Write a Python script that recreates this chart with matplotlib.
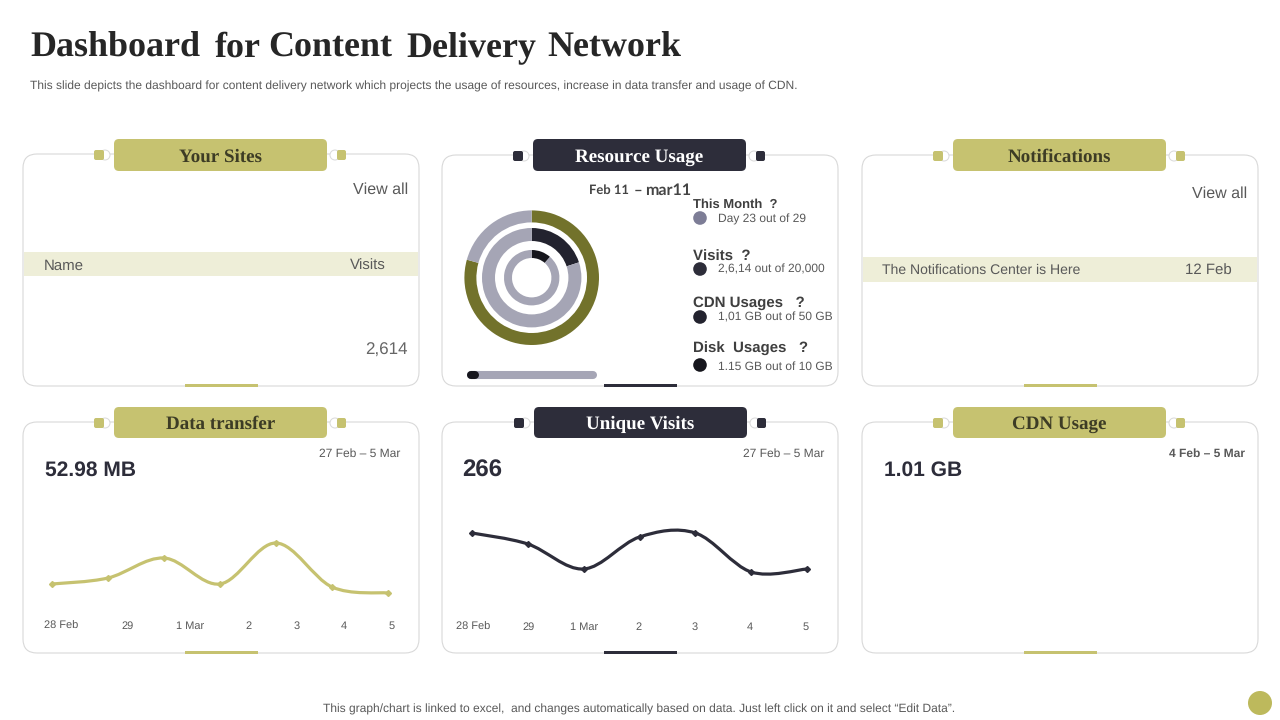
"""Dashboard for Content Delivery Network - slide style chart"""
import matplotlib
matplotlib.use('Agg')
import matplotlib.pyplot as plt
from matplotlib.patches import FancyBboxPatch, Rectangle, Circle, PathPatch
from matplotlib.path import Path

plt.rcParams['text.hinting'] = 'no_hinting'
plt.rcParams['text.hinting_factor'] = 1

OLIVE = '#c6c270'
DARK = '#2d2d3a'
BAND = '#eeeed8'
GREY_TEXT = '#595959'
RING_GREY = '#a5a5b5'
RING_OLIVE = '#72722b'

title_words = ['Dashboard', 'for', 'Content', 'Delivery', 'Network']
subtitle = ('This slide depicts the dashboard for content delivery network which projects '
            'the usage of resources, increase in data transfer and usage of CDN.')
footer = 'This graph/chart is linked to excel,  and changes automatically based on data. Just left click on it and select “Edit Data”.'

card_titles = ['Your Sites', 'Resource Usage', 'Notifications', 'Data transfer', 'Unique Visits', 'CDN Usage']

day_labels = ['28 Feb', '29', '1 Mar', '2', '3', '4', '5']
transfer_values = [16, 22, 42, 16, 57, 13, 7]
visits_values = [67, 56, 31, 63, 67, 28, 31]

ring_used = [23, 20, 11.5]
ring_total = [29, 100, 100]
progress_value = 9

legend_heads = ['This Month  ?', 'Visits  ?', 'CDN Usages   ?', 'Disk  Usages   ?']
legend_notes = ['Day 23 out of 29', '2,6,14 out of 20,000', '1,01 GB out of 50 GB', '1.15 GB out of 10 GB']


def smooth_path(xs, ys):
    # 점을 지나는 부드러운 곡선 (Catmull-Rom -> bezier)
    verts = [(xs[0], ys[0])]
    codes = [Path.MOVETO]
    n = len(xs)
    for i in range(n - 1):
        p0 = max(i - 1, 0)
        p3 = min(i + 2, n - 1)
        c1 = (xs[i] + (xs[i + 1] - xs[p0]) / 6, ys[i] + (ys[i + 1] - ys[p0]) / 6)
        c2 = (xs[i + 1] - (xs[p3] - xs[i]) / 6, ys[i + 1] - (ys[p3] - ys[i]) / 6)
        verts += [c1, c2, (xs[i + 1], ys[i + 1])]
        codes += [Path.CURVE4, Path.CURVE4, Path.CURVE4]
    return Path(verts, codes)


fig = plt.figure(figsize=(12.8, 7.2), dpi=100, facecolor='white')
bg = fig.add_axes([0, 0, 1, 1])
bg.set_xlim(0, 1280)
bg.set_ylim(720, 0)
bg.axis('off')


def px_axes(x0, y0, x1, y1):
    ax = fig.add_axes([x0 / 1280, 1 - y1 / 720, (x1 - x0) / 1280, (y1 - y0) / 720])
    ax.axis('off')
    ax.patch.set_alpha(0)
    return ax


def txt(x, y, s, size=9, color=GREY_TEXT, ha='left', family='Liberation Sans', weight='normal', va='center_baseline'):
    bg.text(x, y, s, fontsize=size, color=color, ha=ha, va=va, family=family, fontweight=weight)


def draw_card(x0, y0, x1, y1, head_x0, head_y0, head_y1, label, color):
    bg.add_patch(FancyBboxPatch((x0 + 14, y0 + 14), x1 - x0 - 28, y1 - y0 - 28,
                                boxstyle='round,pad=14,rounding_size=14',
                                facecolor='white', edgecolor='#d9d9d9', linewidth=0.8))
    head_x1 = head_x0 + 213
    mid_y = (head_y0 + head_y1) / 2
    # 연결 장식
    bg.add_patch(Circle((head_x0 - 9, y0 + 1), 5, facecolor='white', edgecolor='#d9d9d9', linewidth=0.7))
    bg.add_patch(Circle((head_x1 + 8, y0 + 1), 5, facecolor='white', edgecolor='#d9d9d9', linewidth=0.7))
    bg.add_patch(FancyBboxPatch((head_x0 - 20, y0 - 4), 10, 10, boxstyle='round,pad=0,rounding_size=2',
                                facecolor=color, edgecolor='none'))
    bg.add_patch(FancyBboxPatch((head_x1 + 10, y0 - 4), 9, 10, boxstyle='round,pad=0,rounding_size=2',
                                facecolor=color, edgecolor='none'))
    bg.add_patch(FancyBboxPatch((head_x0, head_y0), head_x1 - head_x0, head_y1 - head_y0,
                                boxstyle='round,pad=0,rounding_size=5',
                                facecolor=color, edgecolor='none', zorder=3))
    text_color = 'white' if color == DARK else '#3d3c25'
    bg.text((head_x0 + head_x1) / 2, mid_y, label, fontsize=13.4, color=text_color, ha='center', va='center_baseline',
            family='Liberation Serif', fontweight='bold', zorder=4)
    # 아래쪽 짧은 바
    mid_x = (x0 + x1) / 2
    bg.add_patch(Rectangle((mid_x - 36, y1 - 2), 73, 3, facecolor=color, edgecolor='none'))


# 제목은 원본 단어 위치에 맞춰 단어별로 배치
title_x = [30, 215, 268, 406, 547]
for word, wx in zip(title_words, title_x):
    txt(wx, 57, word, size=26, color='#262626', family='Liberation Serif', weight='bold', va='baseline')
txt(30, 85, subtitle, size=8.6)
txt(639, 708.5, footer, size=8.55, ha='center')
bg.add_patch(Circle((1260, 703), 12, facecolor='#bdb95c', edgecolor='none'))

draw_card(23, 154, 419, 386, 114, 139, 171, card_titles[0], OLIVE)
draw_card(442, 155, 838, 386, 533, 139, 171, card_titles[1], DARK)
draw_card(862, 155, 1258, 386, 953, 139, 171, card_titles[2], OLIVE)
draw_card(23, 422, 419, 653, 114, 407, 438, card_titles[3], OLIVE)
draw_card(442, 422, 838, 653, 534, 407, 438, card_titles[4], DARK)
draw_card(862, 422, 1258, 653, 953, 407, 438, card_titles[5], OLIVE)

# Your Sites
bg.add_patch(Rectangle((24, 252), 394, 24, facecolor=BAND, edgecolor='none'))
txt(408, 188, 'View all', size=11.8, ha='right')
txt(44, 264, 'Name', size=10.8)
txt(386, 264, 'Visits', size=10.8, ha='right')
txt(408, 348.5, '2,614', size=12, ha='right', color='#666666')

# Notifications
bg.add_patch(Rectangle((863, 257), 394, 25, facecolor=BAND, edgecolor='none'))
txt(1247, 192, 'View all', size=11.8, ha='right')
txt(882, 269, 'The Notifications Center is Here', size=10.4)
txt(1232, 269, '12 Feb', size=10.6, ha='right')

# Resource Usage
txt(589, 189.5, 'Feb 11', size=9, color='#444444', family='Lato', weight='bold')
txt(634, 189, '–', size=11, color='#444444', family='Lato', weight='bold')
txt(645, 188.5, 'mar11', size=11.5, color='#444444', family='Lato', weight='bold')

ring_ax = px_axes(461.7, 207.7, 601.7, 347.7)
ring_radius = [67.3, 49.7, 27.7]
ring_width = [12, 13, 8]
ring_colors = [(RING_OLIVE, RING_GREY), ('#23232f', RING_GREY), ('#16161d', RING_GREY)]
for used, total, radius, width, colors in zip(ring_used, ring_total, ring_radius, ring_width, ring_colors):
    ring_ax.pie([used, total - used], radius=radius, startangle=90, counterclock=False, colors=colors,
                wedgeprops={'width': width, 'linewidth': 0})
ring_ax.set_xlim(-70, 70)
ring_ax.set_ylim(-70, 70)

bar_ax = px_axes(467, 370, 597, 380)
bar_ax.set_xlim(0, 100)
bar_ax.set_ylim(-1, 1)
bar_ax.plot([3, 97], [0, 0], color=RING_GREY, linewidth=5.8, solid_capstyle='round', clip_on=False)
bar_ax.plot([3, progress_value - 3], [0, 0], color='#16161d', linewidth=5.8, solid_capstyle='round', clip_on=False)

legend_y = [203, 255, 301, 347]
legend_size = [9.6, 10.6, 10.6, 10.6]
dot_y = [218, 269, 317, 365]
note_y = [218, 268, 316, 366]
dot_colors = ['#7d7d96', '#2d2d3a', '#23232f', '#16161d']
for head, note, y, size, dy, ny, dc in zip(legend_heads, legend_notes, legend_y, legend_size, dot_y, note_y, dot_colors):
    txt(693, y, head, size=size, color='#3f3f3f', weight='bold')
    bg.add_patch(Circle((700, dy), 6.8, facecolor=dc, edgecolor='none'))
    txt(717.5, ny, note, size=8.4)

# Data transfer
txt(45, 468.5, '52.98 MB', size=15.2, color=DARK, weight='bold')
txt(400, 453, '27 Feb – 5 Mar', size=8.6, ha='right')
# Unique Visits
txt(462, 468, '266', size=17, color=DARK, weight='bold')
txt(824, 453, '27 Feb – 5 Mar', size=8.6, ha='right')
# CDN Usage
txt(884, 468.5, '1.01 GB', size=15.2, color=DARK, weight='bold')
txt(1245, 453, '4 Feb – 5 Mar', size=8.4, ha='right', weight='bold')

# 라인 차트
line_specs = [
    (transfer_values, OLIVE, 52, 388, [61, 128, 190, 249, 297, 344, 392], 629),
    (visits_values, DARK, 472, 807, [473.5, 528.5, 584.5, 639, 695, 750, 806], 630),
]
for values, color, x0, x1, label_x, label_y in line_specs:
    ax = px_axes(x0, 500, x1, 600)
    xs = list(range(len(values)))
    ax.set_xlim(0, len(values) - 1)
    ax.set_ylim(0, 100)
    ax.add_patch(PathPatch(smooth_path(xs, values), facecolor='none', edgecolor=color,
                           linewidth=2.3, capstyle='round', clip_on=False))
    ax.plot(xs, values, linestyle='none', marker='D', markersize=3, color=color, clip_on=False)
    for lx, lbl in zip(label_x, day_labels):
        txt(lx, label_y, lbl, size=7.6, ha='center', va='baseline')

fig.savefig('out.png', dpi=100, facecolor='white')
plt.close(fig)
